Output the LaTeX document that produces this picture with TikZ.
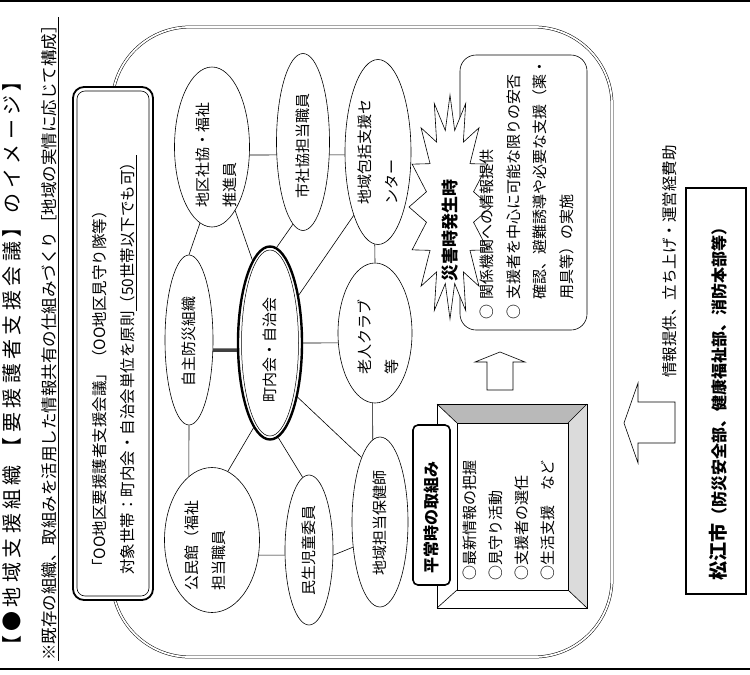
\documentclass[tikz,border=0pt]{standalone}
\usepackage{fontspec}
\setmainfont{Noto Sans CJK JP}
\usetikzlibrary{shapes.geometric}
\begin{document}
\begin{tikzpicture}[x=1pt,y=-1pt,
  txt/.style={rotate=90,inner sep=0pt,align=left,font=\fontsize{15}{27}\selectfont},
  ell/.style={draw,ellipse,inner sep=0pt,line width=0.6pt,fill=white},
  lnk/.style={line width=0.6pt}]
\useasboundingbox (0,0) rectangle (750,675);
\fill[white] (0,0) rectangle (750,675);
% page rules
\draw[line width=2pt] (0,1) -- (750,1);
\draw[line width=2pt] (0,669) -- (750,669);
% title lines
\node[txt,anchor=base west,font=\fontsize{20}{20}\selectfont\addfontfeature{LetterSpace=22}] (title1) at (19.5,656) {【●地域支援組織\hspace{8pt}【要援護者支援会議】のイメージ】};
\node[txt,anchor=base west,font=\fontsize{16.5}{16.5}\selectfont] (title2) at (55,661) {\underline{※既存の組織、取組みを活用した情報共有の仕組みづくり［地域の実情に応じて構成］}};
% outer frame
\draw[double,double distance=1.8pt,line width=0.5pt,rounded corners=78pt] (112,27) rectangle (612,657);
% label box
\draw[fill=white,line width=1.8pt,rounded corners=11pt] (73,87) rectangle (153,600);
\draw[line width=0.6pt,rounded corners=8pt] (77,91) rectangle (149,596);
\node[txt,anchor=base west,font=\fontsize{15.5}{15.5}\selectfont] (lab1) at (105,575) {「OO地区要援護者支援会議」（OO地区見守り隊等）};
\node[txt,anchor=base west,font=\fontsize{15.5}{15.5}\selectfont] (lab2) at (133,575) {対象世帯：町内会・自治会単位を原則\underline{（50世帯以下でも可）}};
% ellipses
\node[ell,minimum width=75pt,minimum height=160pt] (A) at (212,147) {};
\node[ell,minimum width=53pt,minimum height=177pt] (B) at (303,142) {};
\node[ell,minimum width=66pt,minimum height=185pt] (C) at (378,152) {};
\node[ell,minimum width=48pt,minimum height=170pt] (D) at (189,340) {};
\node[ell,line width=2.4pt,minimum width=64pt,minimum height=193pt] (E) at (270,343) {};
\node[draw,ellipse,line width=0.5pt,minimum width=57pt,minimum height=186pt] (E2) at (270,343) {};
\node[ell,minimum width=74pt,minimum height=140pt] (F) at (375,333) {};
\node[ell,minimum width=95pt,minimum height=145pt] (G) at (212,540) {};
\node[ell,minimum width=48pt,minimum height=150pt] (H) at (309,550) {};
\node[ell,minimum width=56pt,minimum height=170pt] (I) at (380,522) {};
% ellipse texts
\node[txt] (tA) at (216,155) {地区社協・福祉\\推進員};
\node[txt] (tB) at (303,146) {市社協担当職員};
\node[txt] (tC) at (378,152) {地域包括支援セ\\ンター};
\node[txt] (tD) at (189,341) {自主防災組織};
\node[txt] (tE) at (270,350) {町内会・自治会};
\node[txt] (tF) at (378,337) {老人クラブ\\等};
\node[txt] (tG) at (205,545) {公民館（福祉\\担当職員};
\node[txt] (tH) at (309,550) {民生児童委員};
\node[txt] (tI) at (380,523) {地域担当保健師};
% connectors
\draw[lnk] (A.348) -- (B.206);
\draw[lnk] (B.334) -- (C.185);
\draw[lnk] (A.261) -- (D.90);
\draw[lnk] (A.290) -- (E.102);
\draw[lnk] (B.263) -- (E.86);
\draw[lnk] (C.249) -- (E.59);
\draw[lnk] (C.268) -- (F.90);
\draw[line width=3.5pt,black!75] (D.337) -- (E.192);
\draw[lnk] (E.0) -- (F.195);
\draw[lnk] (D.270) -- (G.110);
\draw[lnk] (E.259) -- (G.77);
\draw[lnk] (E.275) -- (H.95);
\draw[lnk] (E.297) -- (I.106);
\draw[lnk] (F.268) -- (I.95);
\draw[lnk] (G.342) -- (H.192);
\draw[lnk] (H.348) -- (I.223);
% disaster box
\draw[fill=white,line width=0.6pt,rounded corners=16pt] (460,55) rectangle (587,330);
\draw[fill=white,line width=0.6pt] plot[samples at={0,...,31},variable=\k] ({450+ifthenelse(mod(\k,2)==0,41,24)*cos(\k*11.25)},{207+ifthenelse(mod(\k,2)==0,112,78)*sin(\k*11.25)}) -- cycle;
\node[txt,font=\bfseries\fontsize{17}{17}\selectfont] (tStar) at (450,230) {災害時発生時};
\node[txt,anchor=north west,font=\fontsize{15}{26.7}\selectfont] (tDis) at (479.5,320) {\makebox[20pt][l]{○}関係機関への情報提供\\\makebox[20pt][l]{○}支援者を中心に可能な限りの安否\\\hspace*{20pt}確認、避難誘導や必要な支援（薬・\\\hspace*{20pt}用具等）の実施};
% arrow up
\draw[fill=white,line width=0.6pt] (487,390) -- (487,362) -- (475,362) -- (500,352) -- (525,362) -- (513,362) -- (513,390) -- cycle;
% normal-time frame
\fill[gray!55] (437,404) -- (587,404) -- (568,423) -- (457,423) -- cycle;
\fill[gray!28] (587,404) -- (587,608) -- (568,590) -- (568,423) -- cycle;
\draw[line width=0.6pt] (437,404) rectangle (587,608);
\draw[line width=0.6pt] (457,423) rectangle (568,590);
\draw[line width=0.6pt] (437,404) -- (457,423) (587,404) -- (568,423) (437,608) -- (457,590) (587,608) -- (568,590);
\draw[fill=white,line width=1.6pt,rounded corners=5pt] (413,425) rectangle (450,585);
\node[txt,font=\bfseries\fontsize{16}{16}\selectfont] (tTab) at (431.5,517) {平常時の取組み};
\node[txt,font=\fontsize{15}{26}\selectfont] (tNorm) at (509,520) {○最新情報の把握\\○見守り活動\\○支援者の選任\\○生活支援　など};
% big arrow and city
\draw[fill=white,line width=0.6pt] (675,402) -- (638,402) -- (638,383) -- (624,423) -- (638,463) -- (638,443) -- (675,443) -- cycle;
\node[txt,anchor=west,font=\fontsize{15.5}{15.5}\selectfont] (tInfo) at (670,378) {情報提供、立ち上げ・運営経費助};
\draw[line width=2.4pt] (686,188) rectangle (746,594);
\node[txt,font=\bfseries\fontsize{16}{16}\selectfont] (tCity) at (718,400) {{\fontsize{19}{19}\selectfont 松江市}（防災安全部、健康福祉部、消防本部等）};
\end{tikzpicture}
\end{document}
